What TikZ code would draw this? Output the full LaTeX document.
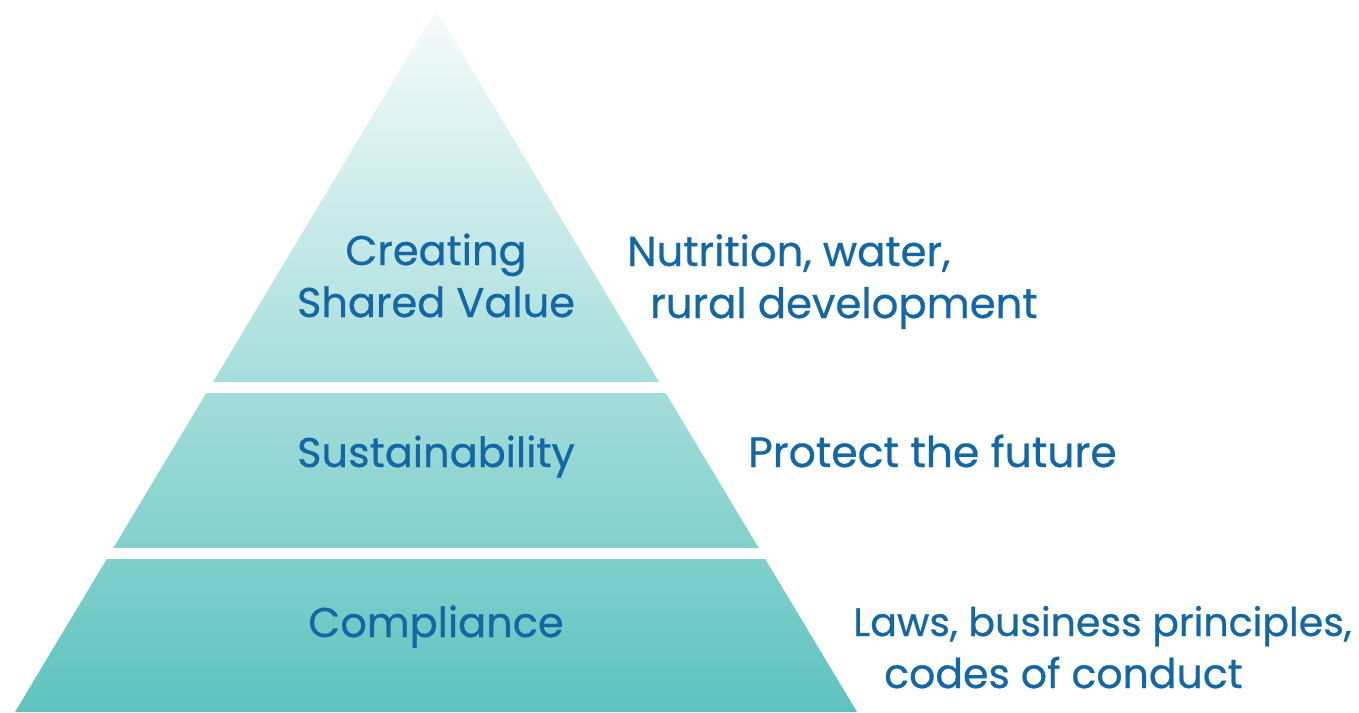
\documentclass[tikz,border=0pt]{standalone}
\usepackage{fontspec}
\setmainfont{Poppins}[BoldFont={Poppins}, BoldFeatures={FakeBold=0.6}]
\begin{document}
\definecolor{labelblue}{RGB}{18,103,164}
\definecolor{pyrtop}{RGB}{246,251,251}
\definecolor{pyrbottom}{RGB}{94,195,191}
\begin{tikzpicture}[x=1pt,y=-1pt,
  label text/.style={text=labelblue, inner sep=0pt},
  level/.style={label text, font=\fontsize{41.5}{52}\selectfont\bfseries},
  note/.style={label text, align=left, font=\fontsize{#1}{52}\selectfont\bfseries},
  note/.default=42,
  gap/.style={fill=white, draw=none}]
\useasboundingbox (0,0) rectangle (1359,712);
% the pyramid, one shading from apex to base
\coordinate (apex) at (436,10);
\coordinate (baseL) at (15,712);
\coordinate (baseR) at (857,712);
\shade[top color=pyrtop, bottom color=pyrbottom] (apex) -- (baseR) -- (baseL) -- cycle;
% white bands separating the three levels
\fill[gap] (0,382) rectangle (900,393);
\fill[gap] (0,548) rectangle (900,559);
% level names
\node[level, align=center, anchor=base] (csv) at (436,317) {Creating\\Shared Value};
\node[level, anchor=base] (sus) at (436,467) {Sustainability};
\node[level, anchor=base] (comp) at (436,637) {Compliance};
% descriptions
\node[note=41.8, anchor=base west] (nut) at (627,318) {Nutrition, water,\\\hspace*{23pt}rural development};
\node[note=42.5, anchor=base west] (prot) at (748,467) {Protect the future};
\node[note=41, anchor=base west] (laws) at (853,688) {{\fontsize{39.5}{52}\selectfont Laws, business principles,}\\\hspace*{31pt}codes of conduct};
\end{tikzpicture}
\end{document}
